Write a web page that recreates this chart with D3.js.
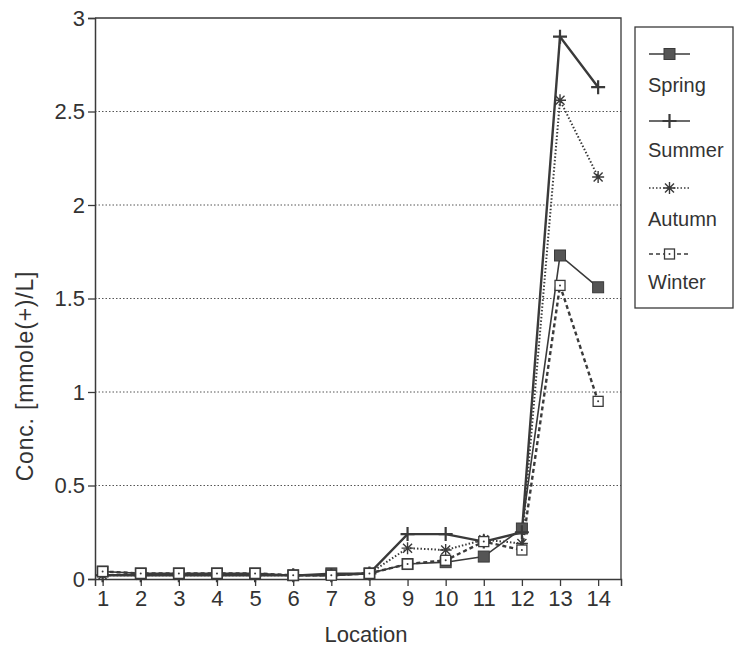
<!DOCTYPE html>
<html>
<head>
<meta charset="utf-8">
<script src="https://cdn.jsdelivr.net/npm/d3@7"></script>
<style>
  body { margin: 0; background: #fff; }
  text { font-family: "Liberation Sans", Arial, sans-serif; fill: #333; }
</style>
</head>
<body>
<script>
// Seasonal concentration by location

var locations = [1, 2, 3, 4, 5, 6, 7, 8, 9, 10, 11, 12, 13, 14];
var spring = [0.04, 0.03, 0.03, 0.03, 0.03, 0.02, 0.03, 0.03, 0.08, 0.09, 0.12, 0.27, 1.73, 1.56];
var summer = [0.02, 0.02, 0.02, 0.02, 0.02, 0.02, 0.02, 0.03, 0.24, 0.24, 0.20, 0.25, 2.90, 2.63];
var autumn = [0.02, 0.02, 0.02, 0.02, 0.02, 0.02, 0.02, 0.03, 0.165, 0.155, 0.21, 0.19, 2.56, 2.15];
var winter = [0.04, 0.03, 0.03, 0.03, 0.03, 0.02, 0.02, 0.03, 0.08, 0.10, 0.20, 0.155, 1.57, 0.95];
var yTicks = [0, 0.5, 1, 1.5, 2, 2.5, 3];
var seasonNames = ["Spring", "Summer", "Autumn", "Winter"];

var series = [
    { name: seasonNames[0], values: spring, marker: "fsquare", dash: null,  width: 1.6 },
    { name: seasonNames[1], values: summer, marker: "plus",    dash: null,  width: 2.4 },
    { name: seasonNames[2], values: autumn, marker: "star",    dash: "1.5,2", width: 2 },
    { name: seasonNames[3], values: winter, marker: "osquare", dash: "4,3", width: 2.4 }
];

var ink = "#3a3a3a";

var svg = d3.select("body").append("svg")
    .attr("width", 735)
    .attr("height", 646);

var x = d3.scaleLinear().domain([0.8, 14.6]).range([95, 621]);
var y = d3.scaleLinear().domain([0, 3]).range([579, 18]);

// Grid lines
svg.append("g").selectAll("line")
    .data(yTicks.filter(function(d) { return d > 0 && d < 3; }))
    .enter().append("line")
    .attr("x1", x.range()[0]).attr("x2", x.range()[1])
    .attr("y1", function(d) { return y(d); })
    .attr("y2", function(d) { return y(d); })
    .style("stroke", "#555")
    .style("stroke-width", 1)
    .style("stroke-dasharray", "1.5,2");

// Plot frame (top and right)
svg.append("path")
    .attr("d", "M" + x.range()[0] + "," + y(3) + "H" + x.range()[1] + "V" + y(0))
    .style("fill", "none")
    .style("stroke", ink)
    .style("stroke-width", 1.3);

// Axes
var yAxis = d3.axisLeft(y).tickValues(yTicks).tickSize(7).tickPadding(3)
    .tickFormat(function(d) { return String(d); });
var yg = svg.append("g").attr("transform", "translate(" + x.range()[0] + ",0)").call(yAxis);

var xAxis = d3.axisBottom(x).tickValues(locations).tickSize(7).tickPadding(4)
    .tickFormat(d3.format("d"));
var xg = svg.append("g").attr("transform", "translate(0," + y(0) + ")").call(xAxis);

[yg, xg].forEach(function(g) {
    g.select(".domain").style("stroke", ink).style("stroke-width", 1.5);
    g.selectAll(".tick line").style("stroke", ink).style("stroke-width", 1.3);
    g.selectAll(".tick text")
        .style("font-family", "'Liberation Sans', Arial, sans-serif")
        .style("font-size", "22px")
        .style("fill", "#333");
});

// Axis titles
svg.append("text")
    .attr("x", (x.range()[0] + x.range()[1]) / 2 + 8)
    .attr("y", 642)
    .attr("text-anchor", "middle")
    .style("font-size", "22px")
    .text("Location");

svg.append("text")
    .attr("transform", "translate(33,376) rotate(-90)")
    .attr("text-anchor", "middle")
    .style("font-size", "23px")
    .style("letter-spacing", "0.8px")
    .text("Conc. [mmole(+)/L]");

// Marker drawing
var drawMarker = function(g, type) {
    if (type === "fsquare") {
        g.append("rect").attr("x", -5.5).attr("y", -5.5).attr("width", 11).attr("height", 11)
            .style("fill", "#555").style("stroke", ink);
    } else if (type === "osquare") {
        g.append("rect").attr("x", -5).attr("y", -5).attr("width", 10).attr("height", 10)
            .style("fill", "#fff").style("stroke", ink).style("stroke-width", 1.3);
        g.append("circle").attr("r", 1).style("fill", ink);
    } else if (type === "plus") {
        g.append("path").attr("d", "M-7,0H7M0,-7V7")
            .style("stroke", ink).style("stroke-width", 2.2);
    } else if (type === "star") {
        g.append("path").attr("d", "M-6,0H6M0,-6V6M-4.5,-4.5L4.5,4.5M-4.5,4.5L4.5,-4.5")
            .style("stroke", ink).style("stroke-width", 1.4);
    }
};

var line = d3.line()
    .x(function(d, i) { return x(locations[i]); })
    .y(function(d) { return y(d); });

series.forEach(function(s) {
    svg.append("path")
        .attr("d", line(s.values))
        .style("fill", "none")
        .style("stroke", ink)
        .style("stroke-width", s.width)
        .style("stroke-dasharray", s.dash);
});

series.forEach(function(s) {
    svg.append("g").selectAll("g")
        .data(s.values)
        .enter().append("g")
        .attr("transform", function(d, i) {
            return "translate(" + x(locations[i]) + "," + y(d) + ")";
        })
        .each(function() { drawMarker(d3.select(this), s.marker); });
});

// Legend
var legend = svg.append("g");
legend.append("rect")
    .attr("x", 635).attr("y", 27).attr("width", 98).attr("height", 281)
    .style("fill", "#fff").style("stroke", ink).style("stroke-width", 1.3);

var legendLineY = [54, 121, 188, 254];
var legendTextY = [92, 157, 226, 289];
series.forEach(function(s, i) {
    legend.append("line")
        .attr("x1", 649).attr("x2", 690)
        .attr("y1", legendLineY[i]).attr("y2", legendLineY[i])
        .style("stroke", ink)
        .style("stroke-width", s.marker === "star" ? 1.3 : 1.6)
        .style("stroke-dasharray", s.dash);
    var m = legend.append("g").attr("transform", "translate(669.5," + legendLineY[i] + ")");
    drawMarker(m, s.marker);
    legend.append("text")
        .attr("x", 648).attr("y", legendTextY[i])
        .style("font-size", "20px")
        .text(s.name);
});
</script>
</body>
</html>
